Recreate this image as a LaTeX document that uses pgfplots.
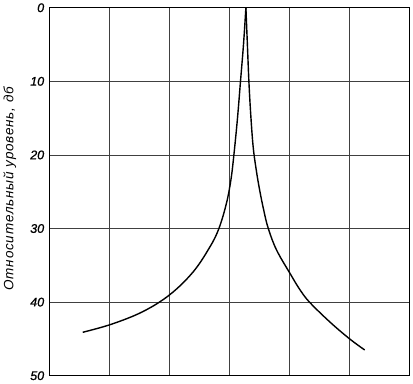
\documentclass[border=0pt]{standalone}
\usepackage{pgfplots}
\pgfplotsset{compat=1.18}
\usepackage{fontspec}
\setmainfont{Liberation Sans}
\newfontfamily\labelfont[LetterSpace=6]{Liberation Sans}
\newfontfamily\tickfont[FakeBold=1]{Liberation Sans}
\begin{document}
\begin{tikzpicture}
\begin{axis}[
  scale only axis,
  width=360pt, height=368pt,
  xmin=0, xmax=6, ymin=0, ymax=50,
  y dir=reverse,
  xtick={0,1,...,6}, xticklabels={},
  ytick={0,10,...,50},
  grid=major,
  grid style={black!75, line width=0.7pt},
  axis line style={black, line width=1.1pt},
  major tick length=0pt,
  tick label style={font=\fontsize{12.5}{12.5}\selectfont\tickfont\itshape},
  /pgf/number format/assume math mode=true,
  yticklabel style={xshift=-2pt},
  ylabel={\labelfont\itshape Относительный уровень, дб},
  ylabel style={font=\fontsize{13.5}{14}\selectfont, at={(axis description cs:0,0.5)}, anchor=center, yshift=40pt, xshift=3pt},
  clip=false,
]
\addplot[black, line width=1.4pt, smooth, tension=0.6] coordinates {
(0.55,44.1) (1.03,43.0) (1.55,41.3) (2.0,39.0) (2.39,35.9) (2.67,32.5) (2.82,30.0) (2.945,26.6) (3.02,23.4) (3.07,20) (3.13,15) (3.18,10) (3.23,5) (3.27,0)
};
\addplot[black, line width=1.4pt, smooth, tension=0.6] coordinates {
(3.27,0) (3.295,5) (3.32,10) (3.35,14.4) (3.39,18.8) (3.44,21.9) (3.5,24.8) (3.57,27.6) (3.64,29.9) (3.78,32.9) (4.02,36.3) (4.17,38.3) (4.33,40) (4.67,42.7) (5.0,45.0) (5.25,46.5)
};
\end{axis}
\path (current axis.north east) ++(3pt,0);
\end{tikzpicture}
\end{document}
